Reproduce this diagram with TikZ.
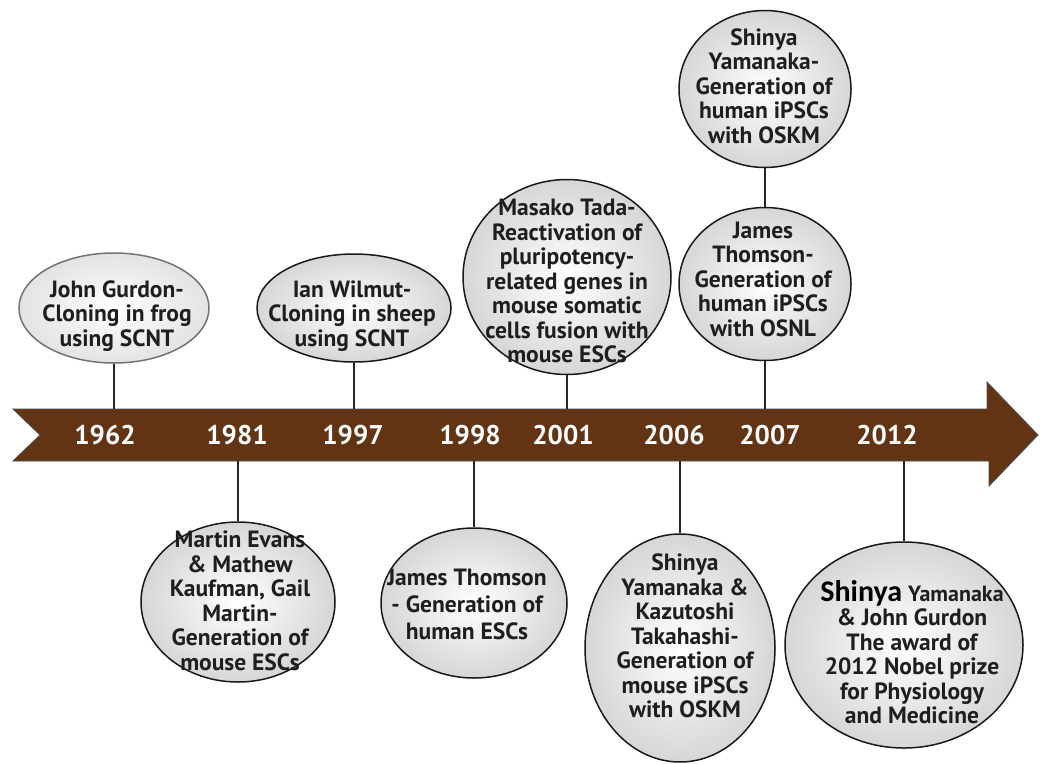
\documentclass[tikz,border=0pt]{standalone}
\usepackage{fontspec}
\setmainfont{PT Sans}
\newfontfamily\carl{Carlito}
\usetikzlibrary{shapes.geometric}
\definecolor{brownband}{RGB}{98,52,20}
\definecolor{txt}{RGB}{30,30,30}
\begin{document}
\begin{tikzpicture}[x=1pt,y=-1pt,
  bubble/.style={ellipse, draw=black!90, line width=1.5pt, inner sep=0pt, shading=radial, inner color=white, outer color=black!16},
  palebubble/.style={bubble, draw=black!55, outer color=black!11},
  btxt/.style={align=center, font=\bfseries\fontsize{23.5}{24.5}\selectfont, text=txt, inner sep=0pt},
  yr/.style={font=\bfseries\fontsize{27}{30}\selectfont, text=white, inner sep=0pt},
  conn/.style={line width=1.5pt, black!85}]
\useasboundingbox (0,0) rectangle (1040,763);
\fill[white] (0,0) rectangle (1040,763);

% timeline arrow
\fill[brownband, draw=black!70, line width=0.8pt]
  (13,409) -- (987,409) -- (987,382) -- (1038,435) -- (989,486) -- (989,461)
  -- (13,461) -- (40,435) -- cycle;
\coordinate (bt) at (0,409);
\coordinate (bb) at (0,461);

% years
\node[yr] (y62) at (105,435) {1962};
\node[yr] (y81) at (237,435) {1981};
\node[yr] (y97) at (353,435) {1997};
\node[yr] (y98) at (470,435) {1998};
\node[yr] (y01) at (563,435) {2001};
\node[yr] (y06) at (674,435) {2006};
\node[yr] (y07) at (770,435) {2007};
\node[yr] (y12) at (887,435) {2012};

% bubbles
\node[palebubble, minimum width=190, minimum height=110] (e62) at (114,308) {};
\node[bubble, minimum width=194, minimum height=108] (e97) at (354,308) {};
\node[bubble, minimum width=208, minimum height=195] (e01) at (567,277) {};
\node[bubble, minimum width=172, minimum height=157] (e07a) at (765,89) {};
\node[bubble, minimum width=172, minimum height=153] (e07b) at (765,284) {};
\node[bubble, minimum width=194, minimum height=160] (e81) at (238,602) {};
\node[bubble, minimum width=186, minimum height=150] (e98) at (474,603) {};
\node[bubble, minimum width=190, minimum height=228] (e06) at (680,648) {};
\node[bubble, minimum width=238, minimum height=206] (e12) at (904,645) {};

% connectors
\draw[conn] (e62.south) -- (e62.south |- bt);
\draw[conn] (e97.south) -- (e97.south |- bt);
\draw[conn] (e01.south) -- (e01.south |- bt);
\draw[conn] (e07a.south) -- (e07b.north);
\draw[conn] (e07b.south) -- (e07b.south |- bt);
\draw[conn] (e81.north) -- (e81.north |- bb);
\draw[conn] (e98.north) -- (e98.north |- bb);
\draw[conn] (e06.north) -- (e06.north |- bb);
\draw[conn] (e12.north) -- (e12.north |- bb);

% texts
\node[btxt] (t62) at (117,316) {John Gurdon-\\Cloning in frog\\using SCNT};
\node[btxt] (t97) at (352,316) {Ian Wilmut-\\Cloning in sheep\\using SCNT};
\node[btxt] (t01) at (567,281) {Masako Tada-\\Reactivation of\\pluripotency-\\related genes in\\mouse somatic\\cells fusion with\\mouse ESCs};
\node[btxt] (t07a) at (764,86) {Shinya\\Yamanaka-\\Generation of\\human iPSCs\\with OSKM};
\node[btxt] (t07b) at (763,279) {James\\Thomson-\\Generation of\\human iPSCs\\with OSNL};
\node[btxt] (t81) at (240,601) {Martin Evans\\\&~Mathew\\Kaufman, Gail\\Martin-\\Generation of\\mouse ESCs};
\node[btxt, font=\bfseries\fontsize{23.5}{27}\selectfont] (t98) at (467,604) {James Thomson\\- Generation of\\human ESCs};
\node[btxt] (t06) at (685,636) {Shinya\\Yamanaka \&\\Kazutoshi\\Takahashi-\\Generation of\\mouse iPSCs\\with OSKM};
\node[btxt] (t12) at (912,652) {{\carl\bfseries\fontsize{30}{24.5}\selectfont\color{black}Shinya} {\fontsize{22}{24.5}\selectfont Yamanaka}\\\&~John Gurdon\\The award of\\2012 Nobel prize\\for Physiology\\and Medicine};
\end{tikzpicture}
\end{document}
